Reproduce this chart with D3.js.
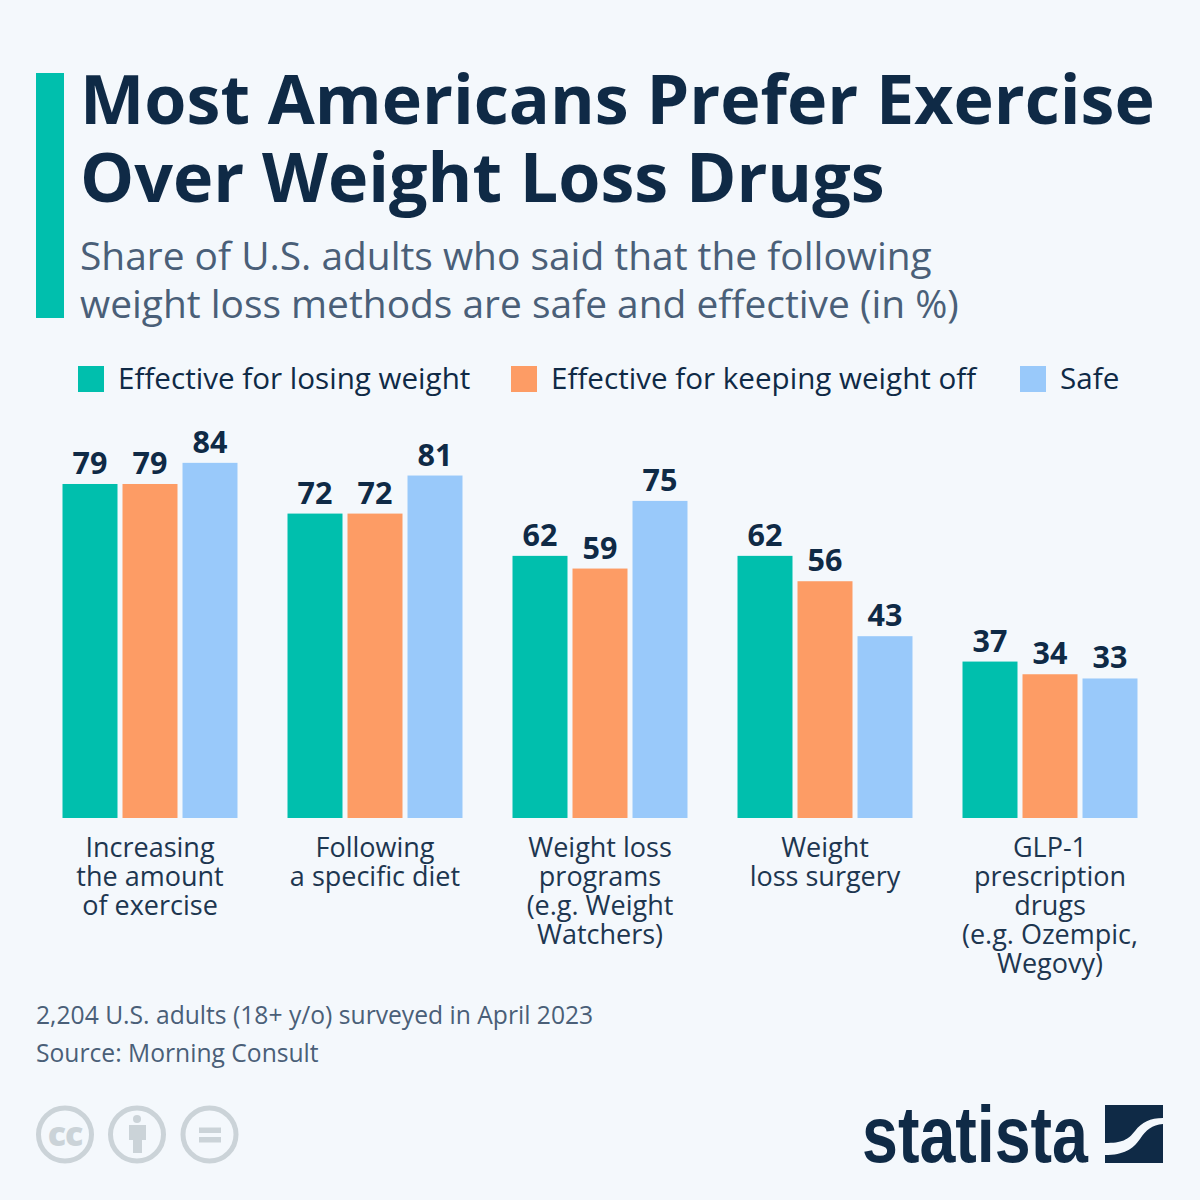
<!DOCTYPE html>
<html>
<head>
<meta charset="utf-8">
<script src="https://cdn.jsdelivr.net/npm/d3@7"></script>
<style>
  html, body { margin: 0; padding: 0; background: #f4f8fc; }
  svg { display: block; }
  text { font-family: "Open Sans", sans-serif; }
</style>
</head>
<body>
<div id="chart"></div>
<script>
var categories = ['exercise', 'diet', 'programs', 'surgery', 'glp1'];
var categoryLines = [
  ['Increasing', 'the amount', 'of exercise'],
  ['Following', 'a specific diet'],
  ['Weight loss', 'programs', '(e.g. Weight', 'Watchers)'],
  ['Weight', 'loss surgery'],
  ['GLP-1', 'prescription', 'drugs', '(e.g. Ozempic,', 'Wegovy)']
];
var seriesNames = ['Effective for losing weight', 'Effective for keeping weight off', 'Safe'];
var losingWeight = [79, 72, 62, 62, 37];
var keepingOff = [79, 72, 59, 56, 34];
var safe = [84, 81, 75, 43, 33];
var seriesValues = [losingWeight, keepingOff, safe];
var seriesColors = ['#00bfad', '#fd9c65', '#99c9fa'];
var titleLines = ['Most Americans Prefer Exercise', 'Over Weight Loss Drugs'];
var subtitleLines = ['Share of U.S. adults who said that the following', 'weight loss methods are safe and effective (in %)'];
var footerLines = ['2,204 U.S. adults (18+ y/o) surveyed in April 2023', 'Source: Morning Consult'];

var navy = '#0f2a46';
var grey = '#4a5f78';
var iconGrey = '#cbd3d8';

var svg = d3.select('#chart').append('svg')
  .attr('width', 1200)
  .attr('height', 1200);

svg.append('rect').attr('width', 1200).attr('height', 1200).attr('fill', '#f4f8fc');

// header
svg.append('rect')
  .attr('x', 36).attr('y', 73).attr('width', 28).attr('height', 245)
  .attr('fill', '#00bfad');

svg.selectAll('.title').data(titleLines).enter().append('text')
  .attr('class', 'title')
  .attr('x', 80)
  .attr('y', (d, i) => 124 + i * 78)
  .attr('font-size', 68.2)
  .attr('font-weight', 700)
  .attr('fill', navy)
  .text(d => d);

svg.selectAll('.subtitle').data(subtitleLines).enter().append('text')
  .attr('class', 'subtitle')
  .attr('x', 80)
  .attr('y', (d, i) => 270 + i * 48)
  .attr('font-size', 38.9)
  .attr('fill', grey)
  .text(d => d);

// legend
var legendSwatchX = [78, 511, 1020];
var legend = svg.selectAll('.legend').data(seriesNames).enter().append('g')
  .attr('class', 'legend')
  .attr('transform', (d, i) => 'translate(' + legendSwatchX[i] + ',366)');
legend.append('rect')
  .attr('width', 26).attr('height', 26)
  .attr('fill', (d, i) => seriesColors[i]);
legend.append('text')
  .attr('x', 40).attr('y', 23)
  .attr('font-size', 29.6)
  .attr('fill', navy)
  .text(d => d);

// scales
var x0 = d3.scaleBand().domain(categories).range([37.5, 1162.5]).paddingInner(50 / 225).paddingOuter(25 / 225);
var x1 = d3.scaleBand().domain(d3.range(3)).range([0, x0.bandwidth()]).paddingInner(1 / 12);
var y = d3.scaleLinear().domain([0, 100]).range([818, 395.2]);

// bars
var groups = svg.selectAll('.group').data(categories).enter().append('g')
  .attr('class', 'group')
  .attr('transform', d => 'translate(' + x0(d) + ',0)');

groups.selectAll('rect')
  .data((d, i) => seriesValues.map((s, j) => ({ series: j, value: s[i] })))
  .enter().append('rect')
  .attr('x', d => x1(d.series))
  .attr('y', d => y(d.value))
  .attr('width', x1.bandwidth())
  .attr('height', d => y(0) - y(d.value))
  .attr('fill', d => seriesColors[d.series]);

groups.selectAll('text')
  .data((d, i) => seriesValues.map((s, j) => ({ series: j, value: s[i] })))
  .enter().append('text')
  .attr('x', d => x1(d.series) + x1.bandwidth() / 2)
  .attr('y', d => y(d.value) - 10)
  .attr('text-anchor', 'middle')
  .attr('font-size', 30.5)
  .attr('font-weight', 700)
  .attr('fill', navy)
  .text(d => d.value);

// category axis
var xAxis = d3.axisBottom(x0).tickSize(0).tickFormat('');
var axisG = svg.append('g')
  .attr('transform', 'translate(0,818)')
  .call(xAxis);
axisG.select('.domain').remove();
axisG.selectAll('.tick text').each(function (d, i) {
  var t = d3.select(this)
    .attr('y', 0).attr('dy', null)
    .attr('font-size', 27)
    .attr('fill', '#1d3650')
    .style('font-family', '"Open Sans", sans-serif');
  t.selectAll('tspan').data(categoryLines[i]).enter().append('tspan')
    .attr('x', 0)
    .attr('y', (l, k) => 39 + k * 29)
    .text(l => l);
});

// footer
svg.selectAll('.footer').data(footerLines).enter().append('text')
  .attr('class', 'footer')
  .attr('x', 36)
  .attr('y', (d, i) => 1024 + i * 38)
  .attr('font-size', 24.65)
  .attr('fill', grey)
  .text(d => d);

// licence icons
var icons = svg.append('g');
[65, 137, 209.5].forEach(function (cx) {
  icons.append('circle')
    .attr('cx', cx).attr('cy', 1134.5).attr('r', 26.5)
    .attr('fill', 'none')
    .attr('stroke', iconGrey)
    .attr('stroke-width', 5);
});
icons.append('text')
  .attr('x', 65).attr('y', 1146)
  .attr('text-anchor', 'middle')
  .attr('font-size', 34).attr('font-weight', 800)
  .attr('letter-spacing', -1)
  .attr('fill', iconGrey)
  .text('cc');
icons.append('circle').attr('cx', 137).attr('cy', 1119).attr('r', 4).attr('fill', iconGrey);
icons.append('path')
  .attr('d', 'M129 1125H146V1140H142V1153H133V1140H129Z')
  .attr('fill', iconGrey);
icons.append('rect').attr('x', 199).attr('y', 1127.5).attr('width', 22).attr('height', 5.5).attr('fill', iconGrey);
icons.append('rect').attr('x', 199).attr('y', 1137).attr('width', 22).attr('height', 5.5).attr('fill', iconGrey);

// logo
svg.append('text')
  .attr('x', 862).attr('y', 1162)
  .attr('font-size', 80)
  .attr('font-weight', 700)
  .attr('textLength', 226)
  .attr('lengthAdjust', 'spacingAndGlyphs')
  .attr('fill', navy)
  .style('font-family', '"Liberation Sans Narrow", "Liberation Sans", sans-serif')
  .text('statista');
svg.append('path')
  .attr('d', 'M1105 1105H1163V1118C1150 1118 1142 1122 1135 1131C1128 1140 1122 1143 1105 1143Z')
  .attr('fill', navy);
svg.append('path')
  .attr('d', 'M1163 1124V1163H1105V1155C1124 1155 1133 1149 1140 1139C1146 1130 1152 1125 1163 1124Z')
  .attr('fill', navy);
</script>
</body>
</html>
